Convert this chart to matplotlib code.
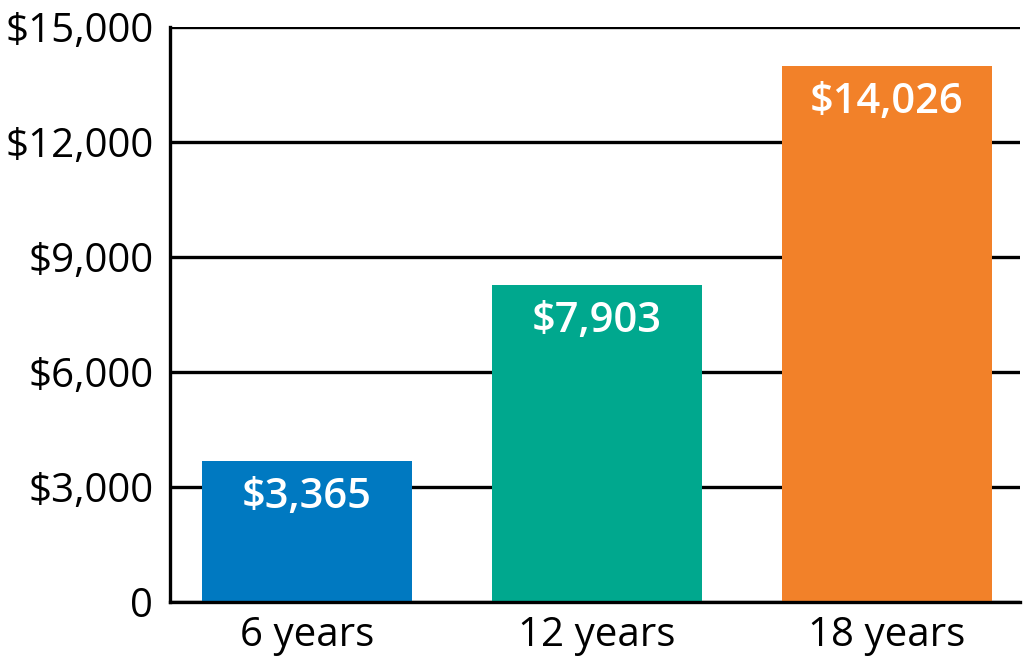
import matplotlib
matplotlib.use("Agg")
import matplotlib.pyplot as plt
from matplotlib.ticker import FuncFormatter

categories = ["6 years", "12 years", "18 years"]
bar_heights = [3690, 8260, 13970]          # heights as drawn in the picture
bar_labels = ["$3,365", "$7,903", "$14,026"]  # printed values
colors = ["#0079C1", "#00A88E", "#F28129"]
yticks = [0, 3000, 6000, 9000, 12000, 15000]

plt.rcParams['font.family'] = ['Open Sans', 'DejaVu Sans']

fig = plt.figure(figsize=(10.24, 6.61), dpi=100)
ax = fig.add_axes([170/1024, 59/661, 850/1024, 575/661])

x = list(range(len(categories)))
ax.bar(x, bar_heights, width=0.724, color=colors, zorder=3)

for xi, h, lab in zip(x, bar_heights, bar_labels):
    ax.annotate(lab, (xi, h), xytext=(0, -36), textcoords='offset pixels',
                ha='center', va='center', color='white', fontsize=30,
                fontweight='semibold', zorder=4)

ax.set_ylim(0, 15000)
ax.set_xlim(-0.472, 2.459)
ax.set_yticks(yticks)
ax.yaxis.set_major_formatter(FuncFormatter(lambda v, p: "0" if v == 0 else f"${int(v):,}"))
ax.set_xticks(x)
ax.set_xticklabels(categories)
ax.tick_params(axis='both', length=0, labelsize=29, colors='black')
ax.tick_params(axis='y', pad=12)
ax.tick_params(axis='x', pad=10)

ax.grid(axis='y', color='black', linewidth=2.4, zorder=1)
ax.set_axisbelow(True)
for s in ['top', 'right']:
    ax.spines[s].set_visible(False)
ax.spines['left'].set_linewidth(2.4)
ax.spines['bottom'].set_linewidth(2.4)
ax.spines['left'].set_zorder(5)
ax.spines['bottom'].set_zorder(5)

fig.savefig("out.png", dpi=100)
